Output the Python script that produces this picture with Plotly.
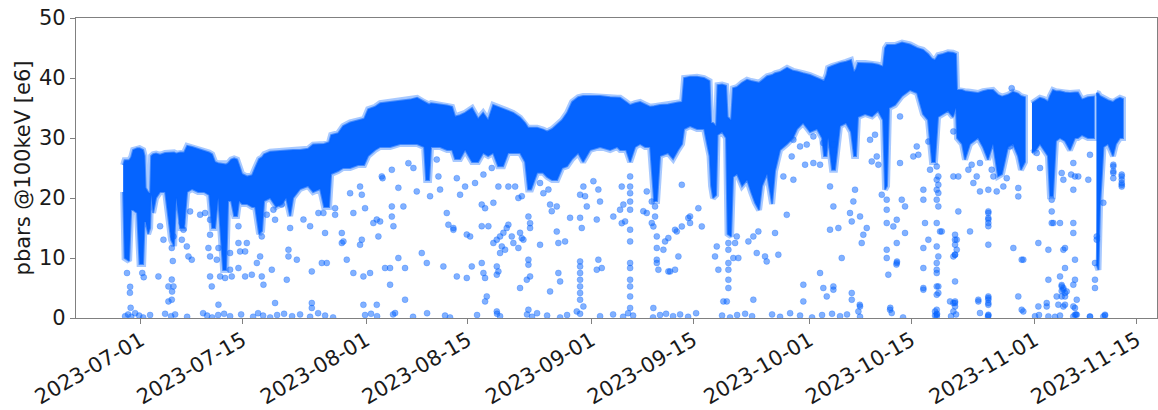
import pandas as pd
import plotly.graph_objects as go

# ---------------- data (days since 2023-07-01, value in e6) ----------------
t0 = "2023-07-01"

# dense band: (day, upper edge, lower edge)
band_seg1 = [
    (-2.43, 25.5, 21), (-2.23, 26.3, 10), (-1.61, 26.3, 9.5), (-1.33, 26.8, 18), (-1.06, 28.0, 18),
    (-0.51, 28.3, 17.5), (-0.17, 28.3, 9), (0.32, 28.0, 9), (0.52, 27.0, 16), (0.66, 21.7, 16),
    (1.00, 21.0, 14), (1.28, 20.8, 15), (1.42, 27.0, 20.5), (1.69, 27.3, 17.5), (2.10, 27.4, 20),
    (2.65, 27.2, 21), (3.34, 27.5, 21), (4.17, 27.6, 13), (4.58, 27.6, 12), (4.86, 27.4, 20),
    (5.41, 27.6, 15), (5.96, 27.6, 15), (6.37, 28.7, 21), (7.06, 28.5, 21.5), (7.88, 28.2, 21),
    (8.71, 27.8, 21), (9.40, 27.6, 20.5), (9.81, 27.3, 15), (10.22, 26.0, 15), (10.64, 25.8, 20),
    (11.32, 25.7, 8), (11.74, 25.6, 8), (12.01, 25.8, 19.5), (12.42, 26.4, 19.5), (12.84, 26.6, 17),
    (13.25, 26.4, 17), (13.52, 25.5, 19.5), (13.93, 24.0, 19), (14.62, 23.6, 19), (15.31, 23.8, 18.5),
    (15.72, 25.0, 18.5), (16.27, 26.5, 14), (16.68, 26.8, 14.5), (16.96, 27.3, 19.5), (17.79, 27.7, 20),
    (18.61, 27.8, 18.5), (19.44, 27.8, 19), (19.99, 27.9, 20), (20.54, 28.0, 17), (20.95, 28.0, 20),
    (21.91, 28.0, 21.5), (23.01, 28.2, 22), (23.70, 28.9, 21), (24.66, 28.9, 21.5), (25.21, 29.0, 18.5),
    (25.90, 29.3, 18.5), (26.18, 30.5, 24), (27.14, 30.8, 24.5), (27.83, 32.0, 25), (28.79, 32.6, 25),
    (29.89, 33.0, 25.5), (30.72, 33.2, 25.5), (31.27, 34.8, 27), (32.23, 35.2, 28), (32.92, 35.8, 28.5),
    (34.30, 36.0, 28.5), (35.67, 36.2, 29), (37.05, 36.4, 29), (38.01, 36.7, 29), (38.97, 36.0, 28.5),
    (39.25, 35.8, 23), (39.66, 35.6, 23), (39.93, 35.8, 28.5), (41.17, 35.6, 28.5), (42.13, 35.4, 28),
    (42.82, 35.2, 28), (43.23, 33.6, 26.5), (43.92, 33.8, 26.5), (44.61, 34.2, 28), (45.57, 35.0, 26),
    (46.40, 33.2, 26), (47.09, 34.2, 27.5), (47.78, 33.0, 27), (48.47, 35.5, 27.5), (49.15, 35.2, 25.3),
    (49.84, 34.8, 25.3), (50.53, 34.5, 27.5), (51.22, 34.2, 27.5), (52.18, 33.4, 27.5), (52.87, 32.5, 26),
    (53.28, 31.7, 21.4), (53.69, 31.7, 21.4), (54.52, 31.7, 24.2), (55.34, 31.4, 24.2), (55.89, 31.1, 23.5),
    (56.58, 31.5, 23), (57.27, 32.2, 23), (57.96, 33.0, 25), (58.65, 34.2, 25.3), (59.33, 36.0, 26.5),
    (60.16, 36.8, 27.5), (60.85, 37.0, 26), (61.81, 37.0, 28), (63.19, 37.0, 28.5), (64.56, 36.8, 28),
    (65.53, 36.7, 28.5), (65.94, 36.7, 28), (66.76, 36.0, 28), (67.31, 35.5, 26), (68.00, 35.8, 28.5),
    (68.69, 36.0, 29), (69.37, 35.6, 28.5), (70.06, 35.2, 28.5), (70.61, 35.3, 19.5), (71.02, 35.4, 19.5),
    (71.43, 35.5, 27), (72.53, 35.6, 27.5), (73.22, 35.8, 26.5), (73.91, 35.9, 28), (74.46, 36.0, 29),
    (74.74, 40.0, 31.5), (75.56, 40.2, 32), (76.52, 40.2, 31.5), (77.49, 40.0, 31.5), (77.90, 39.8, 29),
    (78.24, 39.5, 27), (78.45, 32.5, 22), (78.72, 32.5, 20), (79.14, 32.0, 20.5), (79.34, 38.8, 30.5),
    (79.96, 38.9, 31), (80.51, 38.7, 30), (80.72, 33.5, 14), (81.20, 33.0, 13.6), (81.47, 38.3, 23.5),
    (82.02, 38.5, 24), (82.71, 39.2, 22), (83.40, 39.7, 23), (83.95, 39.5, 21), (84.50, 39.3, 19.2),
    (85.05, 39.2, 18), (85.46, 39.6, 22), (86.15, 40.3, 24), (86.84, 40.5, 19), (87.25, 40.8, 24.5),
    (87.94, 41.0, 28), (88.90, 41.7, 29), (89.72, 41.2, 30), (90.27, 41.1, 31.5), (91.10, 40.8, 32.5),
    (92.06, 40.5, 31), (93.02, 40.0, 31.5), (93.71, 39.7, 30), (93.99, 39.5, 27), (94.33, 40.5, 27),
    (94.54, 41.7, 30), (95.09, 42.0, 24.7), (95.50, 42.2, 24.7), (96.19, 42.5, 32), (97.01, 42.7, 32.5),
    (97.70, 43.0, 31), (98.11, 41.0, 27), (98.39, 41.5, 27), (98.66, 42.5, 33.5), (99.63, 42.5, 34),
    (100.59, 42.4, 33.6), (101.42, 42.2, 34.5), (102.10, 41.9, 33), (102.38, 45.0, 21.4), (102.65, 45.5, 22),
    (102.93, 45.5, 35), (103.75, 45.5, 35.5), (104.72, 45.9, 37), (105.82, 45.6, 38), (106.78, 45.0, 37.5),
    (107.60, 44.7, 34), (108.29, 44.0, 33), (108.84, 43.2, 26), (109.25, 43.0, 26), (109.67, 43.8, 33.5),
    (110.35, 44.0, 34), (111.04, 44.3, 34.5), (111.73, 44.2, 33.5), (112.14, 44.0, 35), (112.28, 38.0, 30),
    (112.97, 38.0, 29), (113.38, 37.8, 26.4), (114.07, 37.7, 29), (115.17, 37.5, 30), (115.85, 37.8, 28.5),
    (116.54, 38.0, 26.4), (117.23, 38.0, 29), (117.92, 37.2, 23.6), (118.47, 36.9, 24), (119.29, 37.2, 28.5),
    (119.98, 37.7, 29), (120.67, 37.4, 27), (121.08, 37.0, 24.7), (121.63, 36.8, 26),
]
band_seg2 = [
    (122.59, 35.8, 27.5), (123.14, 36.2, 28), (123.69, 36.7, 29), (124.24, 36.5, 28), (124.79, 36.1, 27),
    (125.07, 37.0, 20.3), (125.48, 38.0, 20.3), (125.89, 37.8, 29.5), (126.44, 37.8, 30), (127.13, 37.6, 29.5),
    (127.82, 37.5, 28), (128.50, 37.6, 30), (128.92, 37.6, 30), (129.47, 36.4, 30.5), (130.29, 36.8, 30),
    (131.12, 36.9, 30),
]
band_seg3 = [
    (131.46, 37.5, 9.0), (131.74, 37.4, 8.0), (131.95, 37.0, 18.6), (132.22, 36.8, 24), (132.43, 36.7, 28.5),
    (133.05, 36.3, 29), (133.74, 36.0, 27), (134.15, 36.4, 29), (134.70, 36.7, 30), (135.11, 36.5, 30),
]

# isolated measurements: (day, value)
pts_jul = [
    (-1.47, 5.2), (-1.5, 4.2), (-1.4, 1.7), (-1.9, 7.5), (0.2, 7.5), (0.4, 6.8),
    (2.65, 15.3), (3.11, 13.05), (2.42, 6.93), (3.80, 5.27), (3.80, 2.77), (4.26, 3.05), (4.49, 5.27),
    (4.26, 11.67), (4.49, 13.6), (4.26, 6.4), (4.3, 4.4), (4.4, 9.5), (5.64, 15.83), (5.86, 14.72),
    (5.64, 13.05), (6.33, 11.93), (6.55, 10.27), (7.01, 9.72), (6.78, 17.77), (8.16, 17.22), (8.84, 17.5),
    (9.53, 16.38), (9.53, 13.88), (9.30, 11.67), (9.53, 10.27), (9.53, 6.93), (9.76, 5.27), (10.45, 9.72),
    (10.68, 11.67), (10.91, 6.93), (10.68, 2.22), (11.60, 6.67), (12.28, 10.83), (12.28, 8.05), (12.51, 6.93),
    (13.43, 15.3), (13.43, 12.5), (13.66, 11.1), (14.58, 12.5), (14.35, 11.1), (13.43, 8.33), (14.35, 6.93),
    (15.27, 7.22), (15.96, 9.17), (16.64, 13.6), (16.41, 10.27), (16.64, 6.93), (16.87, 5.55), (17.33, 17.22),
    (18.24, 18.05), (18.47, 16.38), (18.02, 8.05), (18.47, 2.5), (20.08, 6.38), (20.31, 11.38), (20.31, 10.27),
    (21.46, 9.72), (19.39, 18.9), (20.54, 15.0), (22.37, 16.4), (23.29, 15.3), (23.52, 7.77), (24.43, 17.5),
    (25.12, 17.5), (25.35, 14.17), (24.9, 9.17), (25.58, 9.17), (26.73, 18.3), (26.73, 17.2), (27.65, 14.17),
    (27.87, 12.77), (27.65, 12.5), (28.33, 9.72), (28.79, 20.8), (29.24, 17.5), (29.24, 7.5), (30.16, 21.9),
    (30.4, 20.55), (30.4, 13.05), (30.16, 12.2), (30.62, 6.93), (30.85, 18.3), (23.52, 2.5), (23.52, 1.67),
    (30.62, 2.2),
]
pts_aug = [
    (31.54, 7.5), (31.99, 15.83), (32.46, 16.4), (32.92, 16.1), (32.68, 13.6), (33.15, 23.6), (33.26, 23.3),
    (33.6, 8.33), (34.29, 8.33), (34.29, 5.55), (34.53, 24.7), (34.53, 18.6), (34.53, 16.9), (34.75, 15.3),
    (35.43, 21.7), (35.43, 10.0), (36.12, 18.6), (36.35, 8.33), (36.35, 3.05), (36.81, 25.8), (37.5, 25.0),
    (37.96, 21.1), (38.65, 10.83), (39.34, 9.17), (39.79, 20.3), (40.71, 26.4), (40.94, 23.6), (41.17, 21.4),
    (41.62, 8.6), (42.09, 17.5), (42.31, 15.55), (43.0, 15.0), (32.46, 2.2), (34.98, 0.83), (43.0, 14.7),
    (43.47, 23.3), (44.61, 21.9), (43.92, 20.55), (45.98, 22.5), (47.13, 23.9), (48.28, 25.0), (46.9, 18.9),
    (47.36, 18.3), (48.5, 19.2), (46.9, 15.3), (47.81, 15.3), (44.84, 13.9), (45.3, 13.6), (43.47, 6.93),
    (44.84, 6.67), (47.13, 7.5), (47.36, 6.67), (45.53, 8.6), (46.9, 9.17), (48.97, 8.6), (49.19, 7.77),
    (48.97, 7.22), (47.36, 2.77), (47.59, 3.6), (50.56, 15.55), (50.34, 15.0), (49.88, 14.2), (49.42, 13.6),
    (48.97, 13.05), (48.5, 12.5), (49.66, 11.93), (50.11, 11.38), (51.03, 13.6), (51.25, 12.5), (52.17, 14.2),
    (52.41, 13.3), (52.63, 13.05), (51.94, 11.67), (49.42, 10.83), (49.19, 21.9), (50.56, 21.9), (51.49, 21.9),
    (51.94, 20.0), (52.41, 20.3), (52.17, 5.0), (53.1, 6.38), (53.55, 6.93), (53.32, 16.9), (53.55, 15.8),
    (53.55, 15.0), (53.32, 9.72), (53.32, 8.88), (54.92, 12.2), (54.92, 22.5), (55.38, 20.8), (56.07, 21.4),
    (56.3, 18.9), (56.53, 17.8), (57.22, 18.6), (57.22, 14.4), (57.44, 12.5), (58.36, 12.77), (57.44, 7.5),
    (57.68, 6.1), (56.3, 4.43), (59.05, 16.7), (60.43, 16.7), (60.66, 15.0), (60.43, 9.43), (60.43, 8.6),
    (60.43, 7.5), (60.43, 6.38), (60.43, 5.27), (60.43, 4.17), (60.43, 3.05), (60.88, 1.93), (59.97, 1.1),
    (60.43, 20.55), (61.11, 20.3), (61.35, 18.6), (60.88, 21.9), (48.97, 1.1), (53.32, 1.38),
]
pts_sep = [
    (62.26, 22.8), (62.94, 21.4), (63.17, 19.4), (62.72, 16.4), (62.94, 9.72), (63.41, 8.33), (62.72, 8.05),
    (65.0, 16.9), (65.93, 18.05), (66.16, 15.8), (66.16, 21.9), (66.38, 18.9), (66.62, 16.1), (67.31, 23.6),
    (67.31, 21.9), (67.31, 20.8), (67.31, 19.4), (67.31, 18.05), (67.31, 14.72), (67.31, 12.77), (67.31, 9.17),
    (67.31, 8.33), (67.31, 6.38), (67.31, 5.27), (67.31, 3.6), (67.31, 1.67), (69.13, 17.8), (69.6, 17.5),
    (69.6, 21.1), (70.29, 19.4), (70.29, 15.83), (70.51, 15.27), (70.74, 16.9), (70.74, 18.6), (70.98, 13.6),
    (70.98, 11.67), (70.98, 9.72), (70.98, 9.17), (71.2, 8.05), (71.89, 11.38), (72.12, 12.77), (72.57, 13.33),
    (72.81, 7.77), (73.49, 8.05), (73.95, 10.27), (73.73, 14.43), (74.42, 15.27), (74.42, 22.2), (75.32, 16.67),
    (75.56, 15.83), (76.7, 18.3), (77.17, 15.27), (78.99, 10.27), (79.23, 11.93), (79.45, 8.05), (80.14, 2.77),
    (80.83, 11.38), (80.83, 8.05), (80.83, 6.38), (80.83, 5.0), (80.83, 12.5), (80.83, 9.17), (80.61, 2.77),
    (81.51, 10.0), (82.2, 10.0), (81.75, 12.5), (81.98, 13.6), (83.58, 12.77), (84.26, 13.6), (84.73, 10.83),
    (84.95, 14.43), (85.87, 10.27), (86.1, 9.43), (87.7, 10.55), (87.25, 14.17), (88.39, 23.6), (88.86, 17.2),
    (84.26, 3.05), (70.51, 1.67), (73.49, 14.7), (75.56, 16.93), (72.57, 7.77), (89.77, 29.7), (89.54, 26.93),
    (89.77, 23.05), (90.69, 28.6), (91.61, 28.9), (91.38, 25.55),
]
pts_oct = [
    (92.52, 30.27), (92.52, 25.83), (93.44, 25.55), (93.89, 29.17), (95.27, 28.9), (94.81, 21.93), (95.27, 18.6),
    (94.81, 14.72), (95.96, 15.0), (96.42, 10.0), (95.27, 5.27), (95.27, 4.72), (93.89, 5.0), (93.44, 7.5),
    (94.36, 3.6), (91.14, 5.55), (91.14, 2.77), (97.56, 17.5), (97.8, 16.1), (98.02, 19.43), (98.25, 21.38),
    (98.94, 16.93), (99.17, 12.5), (99.39, 13.88), (99.86, 15.0), (100.32, 29.7), (100.55, 26.1), (101.24, 26.93),
    (101.46, 25.55), (101.0, 30.55), (101.93, 20.55), (102.61, 19.72), (102.61, 18.05), (102.61, 15.83),
    (102.61, 11.38), (102.61, 10.0), (102.83, 7.22), (103.52, 15.27), (103.99, 16.38), (103.99, 12.5),
    (103.99, 9.17), (104.02, 9.4), (103.95, 8.9), (104.44, 33.6), (104.68, 19.72), (105.13, 18.6), (105.13, 14.17),
    (104.44, 25.83), (106.27, 26.93), (106.74, 28.6), (106.96, 27.2), (107.65, 21.38), (107.65, 19.72),
    (107.88, 15.83), (107.65, 11.67), (107.65, 8.33), (107.65, 5.0), (108.34, 29.4), (108.34, 13.05),
    (108.57, 24.72), (109.49, 23.05), (109.49, 21.38), (109.49, 19.72), (109.49, 15.83), (109.49, 11.93),
    (109.49, 9.17), (109.49, 7.5), (109.95, 14.43), (111.78, 23.6), (112.0, 13.05), (112.24, 11.38),
    (112.0, 10.55), (111.78, 2.5), (98.94, 1.93), (98.9, 2.2), (98.71, 1.1), (103.07, 1.38), (103.1, 1.7),
    (103.3, 0.83), (97.8, 4.17), (97.8, 3.05), (109.49, 25.27), (109.71, 23.6), (109.71, 22.2), (109.71, 20.83),
    (109.71, 18.6), (109.71, 10.27), (109.49, 8.05), (109.71, 5.27), (109.71, 4.17), (109.49, 1.38),
    (109.49, 0.55), (110.18, 14.43), (112.01, 13.88), (112.24, 13.05), (112.01, 12.22), (112.01, 10.55),
    (111.78, 10.27), (112.01, 6.1), (112.01, 2.77), (112.01, 1.93), (111.78, 1.1), (111.32, 2.77),
    (112.46, 17.77), (112.46, 23.6), (111.78, 31.1), (113.84, 24.72), (114.07, 14.43), (114.3, 25.55),
    (114.99, 23.6), (115.44, 25.83), (115.44, 21.1), (116.59, 21.38), (116.59, 17.77), (116.59, 16.67),
    (116.59, 15.83), (116.59, 12.22), (116.59, 3.6), (116.59, 3.05), (116.59, 0.55), (117.05, 24.72),
    (117.28, 23.6), (117.74, 21.1), (118.65, 21.93), (119.12, 23.3), (119.57, 28.6), (119.8, 38.3),
    (120.03, 11.67), (120.71, 21.67), (120.71, 20.27), (120.71, 3.6), (121.4, 9.72), (107.65, 4.72),
    (109.49, 5.27), (109.49, 3.88), (109.26, 1.1), (109.49, 0.27), (112.0, 2.5), (115.21, 2.77), (116.59, 3.33),
    (116.59, 2.5), (115.44, 0.83), (116.59, 0.4), (121.4, 1.1), (114.53, 22.5), (115.21, 3.05), (116.59, 17.5),
    (116.59, 16.4), (116.59, 15.3), (116.59, 2.2), (121.18, 9.72), (121.18, 1.38),
]
pts_nov = [
    (123.25, 27.5), (123.47, 12.5), (123.7, 25.0), (124.62, 1.93), (124.85, 11.38), (125.31, 19.72),
    (125.31, 17.77), (125.53, 15.83), (126.45, 15.83), (126.68, 24.17), (126.91, 23.05), (126.91, 11.38),
    (127.14, 8.33), (126.45, 6.93), (126.68, 5.27), (126.91, 4.72), (127.14, 3.6), (126.91, 1.93),
    (128.28, 25.83), (128.28, 21.38), (128.28, 15.83), (128.28, 14.17), (128.51, 9.72), (128.51, 6.38),
    (128.75, 3.05), (128.51, 0.55), (130.34, 23.05), (130.57, 0.27), (131.26, 5.0), (131.26, 9.17),
    (131.5, 13.6), (131.26, 6.38), (132.41, 0.27), (132.64, 0.55), (133.78, 25.55), (133.78, 24.45),
    (134.94, 23.6), (134.94, 23.05), (134.94, 22.2), (123.47, 1.93), (124.62, 2.5), (126.22, 2.22),
    (127.14, 2.22), (126.91, 5.0), (127.14, 4.17), (126.68, 3.6), (127.37, 4.43), (128.28, 5.55),
    (128.51, 1.67), (128.75, 0.55), (124.85, 6.38), (125.31, 15.83), (127.14, 11.67), (125.99, 3.6),
    (128.28, 1.93), (128.28, 0.27), (127.98, 23.9), (128.51, 23.6), (128.96, 23.6), (130.57, 27.2),
    (131.5, 13.05), (132.41, 19.2), (133.78, 25.27), (133.78, 24.17), (133.78, 23.3), (134.94, 23.9),
    (134.94, 22.5), (134.94, 21.9), (124.85, 0.27), (126.68, 5.5), (126.68, 4.5),
]
# readings close to zero
pts_zero = [
    (-2.16, 0.3), (-1.75, 0.6), (-1.33, 0.2), (-0.78, 0.8), (-0.23, 0.4), (0.32, 0.1), (1.28, 0.5), (3.34, 0.7),
    (4.17, 0.3), (4.72, 0.6), (6.37, 0.2), (8.57, 0.8), (9.12, 0.4), (9.81, 0.1), (10.64, 0.5), (11.46, 0.7),
    (12.28, 0.3), (13.8, 0.6), (15.45, 0.2), (16.13, 0.8), (16.82, 0.4), (17.79, 0.1), (18.75, 0.5), (19.71, 0.7),
    (20.81, 0.3), (21.91, 0.6), (23.29, 0.2), (24.39, 0.8), (25.35, 0.4), (26.45, 0.1), (30.85, 0.5), (31.67, 0.7),
    (32.5, 0.3), (34.7, 0.6), (37.45, 0.2), (39.38, 0.8), (41.85, 0.4), (42.54, 0.1), (46.26, 0.5), (49.01, 0.7),
    (49.42, 0.3), (53.13, 0.6), (53.82, 0.2), (54.51, 0.8), (55.89, 0.4), (57.68, 0.1), (58.64, 0.5), (60.43, 0.7),
    (63.18, 0.3), (64.97, 0.6), (66.35, 0.2), (67.03, 0.8), (67.72, 0.4), (70.47, 0.1), (71.43, 0.5), (72.26, 0.7),
    (73.22, 0.3), (74.19, 0.6), (75.29, 0.2), (76.39, 0.8), (79.96, 0.4), (81.06, 0.1), (82.03, 0.5), (83.13, 0.7),
    (84.09, 0.3), (86.84, 0.6), (87.94, 0.2), (89.32, 0.8), (90.69, 0.4), (92.34, 0.1), (93.72, 0.5), (95.09, 0.7),
    (96.19, 0.3), (97.15, 0.6), (98.94, 0.2), (104.86, 0.1), (109.26, 0.4), (109.53, 0.7), (111.46, 0.3),
    (112.15, 0.6), (116.54, 0.2), (123.01, 0.3), (123.56, 0.5), (125.76, 0.2), (126.45, 0.4), (128.65, 0.6),
    (130.57, 0.2), (132.64, 0.4),
]

x_ticks = ["2023-07-01", "2023-07-15", "2023-08-01", "2023-08-15", "2023-09-01",
           "2023-09-15", "2023-10-01", "2023-10-15", "2023-11-01", "2023-11-15"]
x_range = ["2023-06-22 02:00", "2023-11-17 19:00"]
y_label = "pbars @100keV [e6]"

# ---------------- build ----------------
base = pd.Timestamp(t0)


def to_dt(days):
    return [base + pd.Timedelta(days=float(d)) for d in days]


BLUE = "rgb(5,100,255)"

band_x, band_y = [], []
for seg in (band_seg1, band_seg2, band_seg3):
    days = [r[0] for r in seg]
    top = [r[1] for r in seg]
    bot = [r[2] for r in seg]
    band_x += to_dt(days) + to_dt(days[::-1]) + [None]
    band_y += top + bot[::-1] + [None]

all_pts = pts_jul + pts_aug + pts_sep + pts_oct + pts_nov + pts_zero
pt_x = to_dt([p[0] for p in all_pts])
pt_y = [p[1] for p in all_pts]

fig = go.Figure()
# soft halo round the dense band (the band edge is made of half-transparent dots)
fig.add_trace(go.Scatter(
    x=band_x, y=band_y, mode="lines",
    line=dict(color="rgba(5,100,255,0.35)", width=6), hoverinfo="skip", showlegend=False,
))
fig.add_trace(go.Scatter(
    x=band_x, y=band_y, mode="lines", fill="toself", fillcolor=BLUE,
    line=dict(color="rgba(5,100,255,0.6)", width=2), hoverinfo="skip", showlegend=False,
))
fig.add_trace(go.Scatter(
    x=pt_x, y=pt_y, mode="markers", showlegend=False,
    marker=dict(size=6, color="rgba(5,100,255,0.5)",
                line=dict(color="rgba(5,100,255,0.35)", width=0.8)),
))

axis_common = dict(
    showline=True, linecolor="#808080", linewidth=1.3, mirror=True,
    ticks="outside", ticklen=5, tickwidth=1.3, tickcolor="#808080",
    showgrid=False, zeroline=False,
    tickfont=dict(family="DejaVu Sans", size=21, color="#1a1a1a"),
)

fig.update_layout(
    width=1158, height=410,
    margin=dict(l=76, r=1, t=18, b=92),
    paper_bgcolor="white", plot_bgcolor="white",
    font=dict(family="DejaVu Sans", size=21, color="#1a1a1a"),
    xaxis=dict(type="date", range=x_range, tickvals=x_ticks, ticktext=x_ticks,
               tickangle=-30, automargin=True, ticklabelstandoff=-4, **axis_common),
    yaxis=dict(range=[0, 50], tickvals=[0, 10, 20, 30, 40, 50], automargin=False,
               title=dict(text=y_label, font=dict(family="DejaVu Sans", size=21, color="#1a1a1a"),
                          standoff=2),
               **axis_common),
)

fig.write_html("out.html")
